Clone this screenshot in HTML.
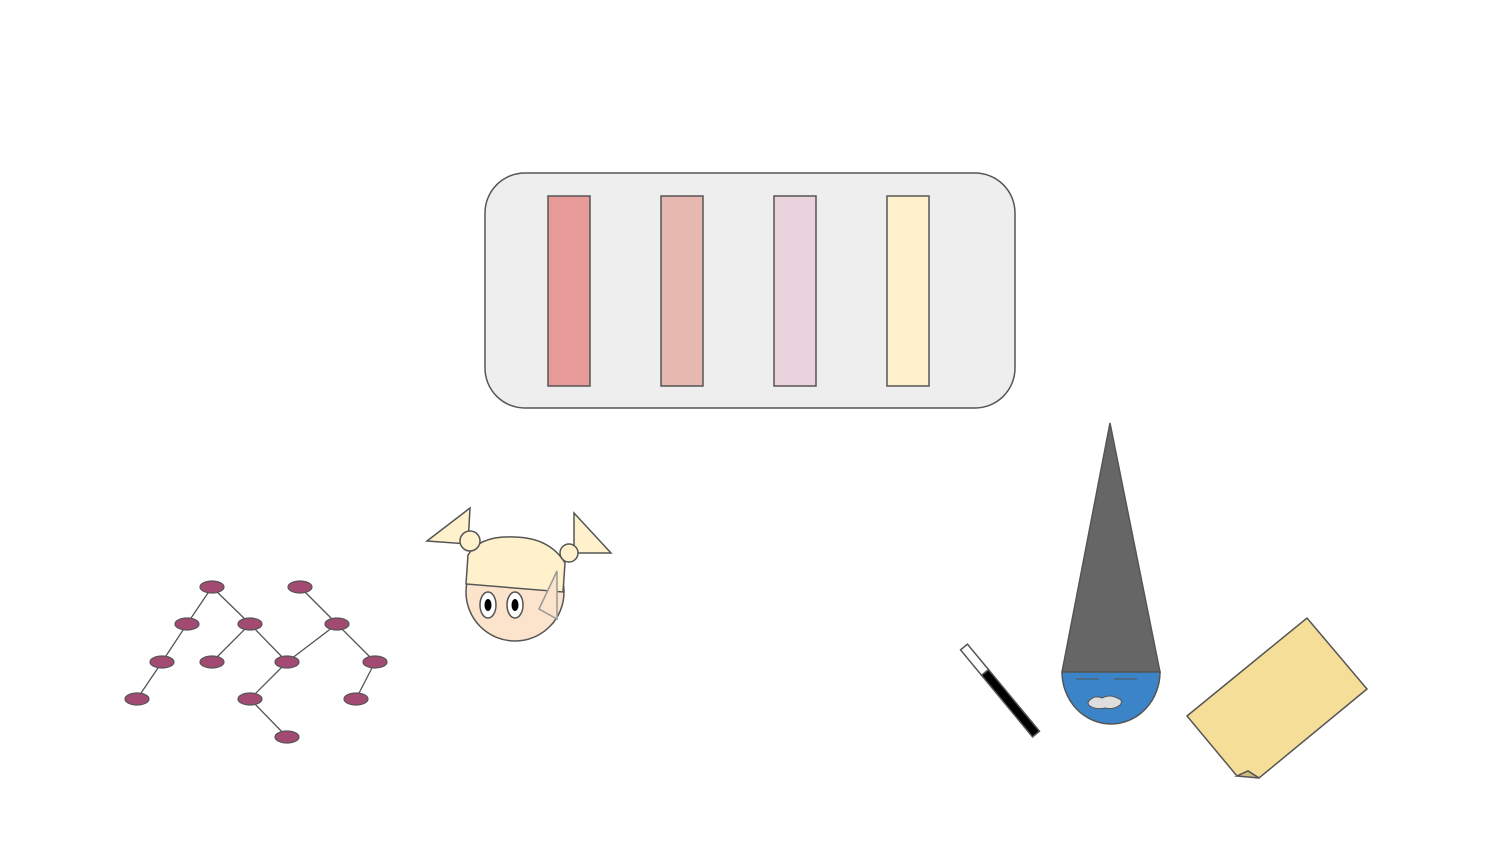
<!DOCTYPE html>
<html><head><meta charset="utf-8"><style>
html,body{margin:0;padding:0;background:#fff;}
svg{display:block;}
</style></head><body>
<svg width="1500" height="844" viewBox="0 0 1500 844" xmlns="http://www.w3.org/2000/svg">
<g>
<rect x="485" y="173" width="530" height="235" rx="40" ry="40" fill="#eeeeee" stroke="#555" stroke-width="1.5"/>
<rect x="548" y="196" width="42" height="190" fill="#e89a98" stroke="#555" stroke-width="1.5"/>
<rect x="661" y="196" width="42" height="190" fill="#e6b8b0" stroke="#555" stroke-width="1.5"/>
<rect x="774" y="196" width="42" height="190" fill="#ead3dd" stroke="#555" stroke-width="1.5"/>
<rect x="887" y="196" width="42" height="190" fill="#fff1cc" stroke="#555" stroke-width="1.5"/>
</g>
<g stroke="#555" stroke-width="1.3">
<line x1="212" y1="587" x2="187" y2="624"/><line x1="212" y1="587" x2="250" y2="624"/>
<line x1="300" y1="587" x2="337" y2="624"/><line x1="187" y1="624" x2="162" y2="662"/>
<line x1="250" y1="624" x2="212" y2="662"/><line x1="250" y1="624" x2="287" y2="662"/>
<line x1="337" y1="624" x2="287" y2="662"/><line x1="337" y1="624" x2="375" y2="662"/>
<line x1="162" y1="662" x2="137" y2="699"/><line x1="287" y1="662" x2="250" y2="699"/>
<line x1="375" y1="662" x2="356" y2="699"/><line x1="250" y1="699" x2="287" y2="737"/>
<g fill="#a24a72" stroke="#555" stroke-width="1.2">
<ellipse cx="212" cy="587" rx="12" ry="6"/>
<ellipse cx="300" cy="587" rx="12" ry="6"/>
<ellipse cx="187" cy="624" rx="12" ry="6"/>
<ellipse cx="250" cy="624" rx="12" ry="6"/>
<ellipse cx="337" cy="624" rx="12" ry="6"/>
<ellipse cx="162" cy="662" rx="12" ry="6"/>
<ellipse cx="212" cy="662" rx="12" ry="6"/>
<ellipse cx="287" cy="662" rx="12" ry="6"/>
<ellipse cx="375" cy="662" rx="12" ry="6"/>
<ellipse cx="137" cy="699" rx="12" ry="6"/>
<ellipse cx="250" cy="699" rx="12" ry="6"/>
<ellipse cx="356" cy="699" rx="12" ry="6"/>
<ellipse cx="287" cy="737" rx="12" ry="6"/>
</g></g>
<g stroke="#555" stroke-width="1.5">
<polygon points="427,541 470,508 468,544" fill="#fff1cc"/>
<polygon points="574,513 611,553 574,553" fill="#fff1cc"/>
<circle cx="515" cy="592" r="49" fill="#fbe3cc"/>
<path d="M466,584 L468,555 Q480,535 515,537 Q550,538 565,563 L563,592 Z" fill="#fff1cc"/>
<circle cx="470" cy="541" r="10" fill="#fff1cc"/>
<circle cx="569" cy="553" r="9" fill="#fff1cc"/>
<ellipse cx="488" cy="605" rx="8" ry="13" fill="#fff"/>
<ellipse cx="515" cy="605" rx="8" ry="13" fill="#fff"/>
<ellipse cx="488" cy="605" rx="3.5" ry="6" fill="#000" stroke="none"/>
<ellipse cx="515" cy="605" rx="3.5" ry="6" fill="#000" stroke="none"/>
<polygon points="539,609 557,571 557,619" fill="#fbe3cc" stroke="#999"/>
</g>
<g transform="translate(964,647) rotate(50.4)">
<rect x="0" y="-4.5" width="33" height="9" fill="#fff" stroke="#555" stroke-width="1.5"/>
<rect x="33" y="-4.5" width="80" height="9" fill="#000" stroke="#555" stroke-width="1.5"/>
</g>
<g stroke="#555" stroke-width="1.5">
<polygon points="1110,423 1062,672 1160,672" fill="#666"/>
<path d="M1062,672 A49,52 0 0 0 1160,672 Z" fill="#3b84c8"/>
<line x1="1076" y1="679" x2="1099" y2="679" stroke-width="1"/>
<line x1="1114" y1="679" x2="1137" y2="679" stroke-width="1"/>
<path d="M1090,700 Q1095,695 1102,698 Q1110,694 1117,698 Q1124,700 1120,705 Q1114,710 1105,708 Q1096,710 1090,706 Q1086,703 1090,700 Z" fill="#ddd" stroke-width="1"/>
</g>
<g stroke="#555" stroke-width="1.5">
<polygon points="1187,716 1307,618 1367,689 1259,778 1248,771 1237,776" fill="#f5de98"/>
<polygon points="1237,776 1248,771 1259,778" fill="#d2bb7e"/>
</g>
</svg>
</body></html>
